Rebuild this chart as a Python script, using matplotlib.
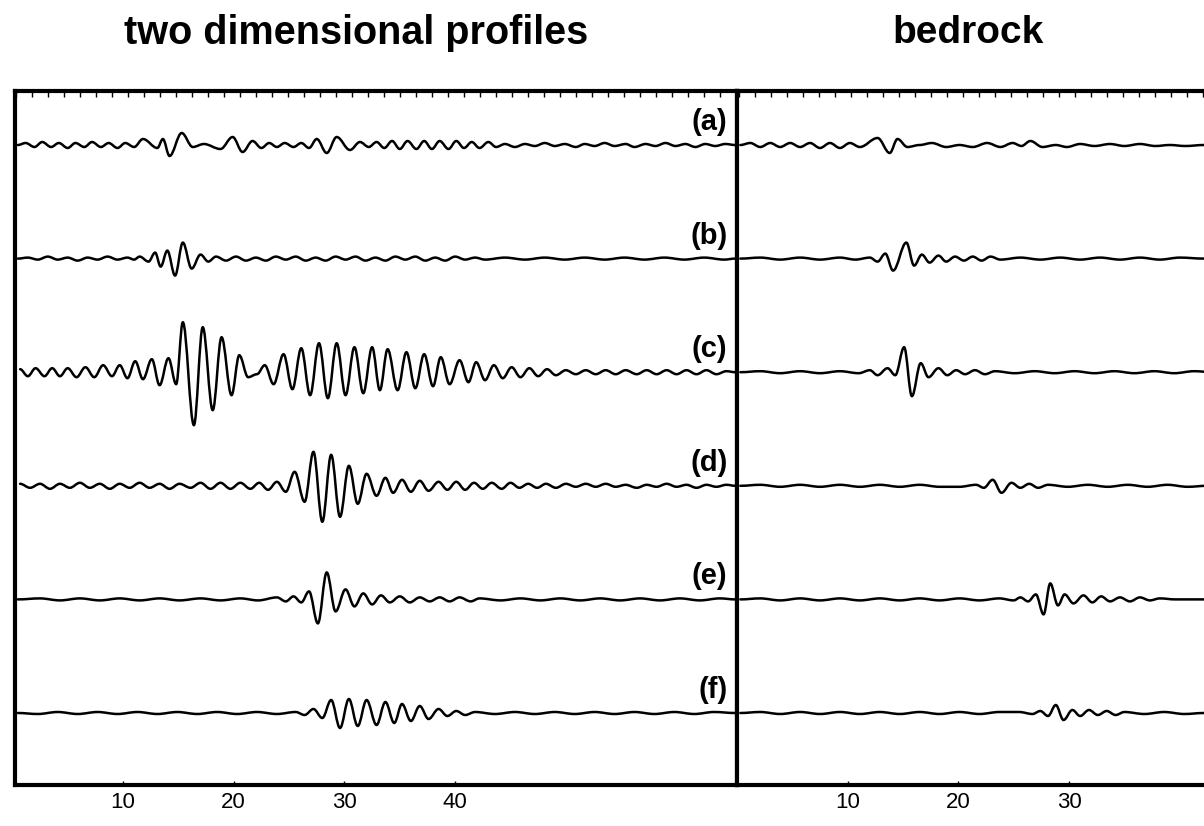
import matplotlib
matplotlib.use('Agg')
import matplotlib.pyplot as plt
from matplotlib.path import Path
from matplotlib.patches import PathPatch
from matplotlib.ticker import MultipleLocator

plt.rcParams['font.family'] = ['Liberation Sans', 'DejaVu Sans']

# time (s) of each wiggle extremum and its amplitude, one list pair per trace
left_a_t = [0.5, 1.2, 2.0, 2.7, 3.5, 4.2, 5.0, 5.7, 6.5, 7.2, 8.0, 8.7, 9.5, 10.2, 11.0, 11.8, 13.1, 13.6, 14.2, 15.3,
            16.3, 17.3, 18.8, 19.9, 20.8, 21.7, 22.5, 23.2, 23.9, 24.6, 25.4, 26.1, 26.8, 27.5, 28.4, 29.3, 30.5, 31.4,
            32.2, 32.9, 33.6, 34.3, 35.0, 35.7, 36.5, 37.2, 37.9, 38.6, 39.4, 40.1, 40.8, 41.5, 42.2, 43.0, 43.7, 44.5,
            45.4, 46.3, 47.2, 48.1, 49.0, 49.9, 50.9, 51.7, 52.6, 53.5, 54.4, 55.4, 56.2, 57.2, 58.1, 59.0, 59.9, 60.8,
            61.7, 62.6, 63.5, 64.4, 65.3]
left_a_y = [0, 2, -2, 3, -2, 2, -3, 2, -2, 3, -2, 2, -3, 2, -2, 6, -3, 6, -11, 12,
            -2, 1, -4, 8, -7, 4, -3, 2, -2, 2, -2, 2, -3, 6, -8, 8, -5, 3,
            -2, 3, -3, 4, -4, 4, -4, 4, -4, 4, -4, 4, -3, 3, -3, 3, -2, 1,
            -2, 1, -1, 2, -1, 1, -2, 1, -1, 2, -1, 1, -2, 1, -1, 2, -1, 1,
            -2, 1, -1, 1, 0]

left_b_t = [0.5, 1.4, 2.3, 3.2, 4.1, 5.0, 5.9, 6.8, 7.7, 8.6, 9.5, 10.4, 11.0, 11.5, 12.3, 12.9, 13.4, 14.0, 14.7, 15.4,
            16.2, 17.0, 17.7, 18.4, 19.3, 20.2, 21.1, 22.0, 22.9, 23.8, 24.7, 25.6, 26.5, 27.4, 28.3, 29.2, 30.1, 31.0,
            31.9, 32.8, 33.7, 34.6, 35.5, 36.4, 37.3, 38.2, 39.1, 40.0, 40.9, 41.8, 42.7, 44.5, 46.3, 48.1, 49.9, 51.7,
            53.5, 55.3, 57.1, 58.9, 60.7, 62.5, 64.3, 65.3]
left_b_y = [0, 1, -1, 2, -1, 1, -2, 1, -1, 2, -1, 1, -1, 2, -3, 6, -8, 8, -17, 16,
            -10, 4, -3, 2, -2, 2, -2, 1, -2, 2, -1, 2, -2, 1, -2, 2, -1, 2,
            -2, 1, -2, 2, -1, 2, -2, 1, -2, 2, -1, 1, -1, 1, -1, 1, -1, 1,
            -1, 1, -1, 1, -1, 1, -1, 0]

left_c_t = [0.7, 1.4, 2.1, 2.9, 3.6, 4.3, 5.0, 5.8, 6.6, 7.4, 8.2, 9.0, 9.7, 10.4, 11.1, 11.8, 12.6, 13.3, 14.1, 14.8,
            15.4, 16.4, 17.2, 18.1, 18.9, 19.8, 20.5, 21.3, 22.1, 22.8, 23.6, 24.5, 25.3, 26.1, 26.9, 27.7, 28.5, 29.3,
            30.1, 30.9, 31.7, 32.5, 33.2, 33.9, 34.8, 35.6, 36.4, 37.2, 38.0, 38.7, 39.5, 40.4, 41.2, 41.9, 42.7, 43.5,
            44.3, 45.1, 45.9, 46.7, 47.5, 48.3, 49.1, 50.0, 50.9, 51.8, 52.7, 53.6, 54.5, 55.4, 56.4, 57.3, 58.2, 59.1,
            60.0, 60.9, 61.8, 62.7, 63.6, 64.5, 65.3]
left_c_y = [3, -4, 4, -4, 4, -4, 4, -5, 5, -5, 7, -4, 7, -6, 11, -7, 13, -13, 14, -12,
            50, -53, 45, -38, 35, -23, 17, -5, -2, 7, -12, 18, -17, 24, -23, 29, -26, 29,
            -23, 25, -21, 25, -18, 23, -18, 20, -16, 18, -14, 15, -12, 12, -10, 10, -8, 7,
            -6, 5, -5, 4, -4, 3, -3, 2, -2, 2, -2, 2, -2, 2, -2, 2, -2, 2,
            -2, 2, -2, 2, -2, 1, 0]

left_d_t = [0.7, 1.6, 2.5, 3.4, 4.3, 5.2, 6.1, 7.0, 7.9, 8.8, 9.7, 10.6, 11.5, 12.4, 13.3, 14.2, 15.1, 16.1, 17.0, 17.9,
            18.8, 19.7, 20.6, 21.5, 22.3, 23.1, 23.9, 24.7, 25.5, 26.4, 27.2, 28.0, 28.8, 29.6, 30.4, 31.2, 32.0, 32.9,
            33.7, 34.4, 35.2, 36.0, 36.8, 37.6, 38.5, 39.3, 40.1, 40.9, 41.7, 42.5, 43.3, 44.2, 45.0, 45.8, 46.6, 47.4,
            48.2, 49.1, 50.0, 50.9, 51.8, 52.7, 53.6, 54.5, 55.4, 56.4, 57.3, 58.2, 59.1, 60.0, 60.9, 61.8, 62.7, 63.6,
            64.5, 65.3]
left_d_y = [2, -2, 2, -3, 2, -2, 3, -2, 2, -3, 2, -2, 3, -2, 2, -3, 2, -2, 3, -3,
            3, -3, 3, -3, 3, -4, 4, -6, 14, -16, 34, -36, 31, -31, 20, -18, 12, -10,
            8, -7, 6, -6, 5, -5, 4, -4, 4, -4, 3, -3, 3, -3, 3, -2, 2, -2,
            2, -2, 2, -1, 2, -1, 2, -1, 1, -2, 1, -1, 2, -1, 1, -2, 1, -1,
            1, 0]

left_e_t = [0.5, 2.5, 4.3, 6.1, 7.9, 9.7, 11.5, 13.3, 15.1, 17.0, 18.8, 20.6, 22.2, 23.9, 24.7, 25.4, 26.1, 26.8, 27.6,
            28.4, 29.2, 30.1, 30.9, 31.7, 32.5, 33.3, 34.1, 35.0, 35.9, 36.8, 37.7, 38.6, 39.5, 40.4, 41.4, 42.2, 44.1,
            45.9, 47.7, 49.5, 51.3, 53.1, 54.9, 56.7, 58.5, 60.3, 62.1, 63.9, 65.3]
left_e_y = [0, 1, -1, 1, -1, 1, -1, 1, -1, 1, -1, 1, -1, 2, -2, 3, -3, 8, -24,
            27, -12, 10, -7, 6, -5, 4, -3, 3, -3, 2, -2, 2, -2, 2, -2, 1, -1,
            1, -1, 1, -1, 1, -1, 1, -1, 1, -1, 1, 0]

left_f_t = [0.5, 2.3, 4.1, 5.9, 7.7, 9.5, 11.3, 13.1, 14.9, 16.7, 18.5, 20.3, 22.1, 23.9, 25.6, 26.4, 27.2, 28.0, 28.8,
            29.6, 30.4, 31.2, 32.0, 32.9, 33.7, 34.5, 35.2, 36.0, 36.8, 37.6, 38.5, 39.3, 40.1, 40.9, 41.8, 43.6, 45.4,
            47.2, 49.0, 50.8, 52.6, 54.4, 56.2, 58.0, 59.8, 61.6, 63.4, 65.3]
left_f_y = [0, -1, 1, -1, 1, -1, 1, -1, 1, -1, 1, -1, 1, -1, 1, -2, 4, -5, 13,
            -15, 14, -13, 13, -12, 11, -10, 9, -8, 7, -6, 4, -3, 2, -2, 1, -1, 1,
            -1, 1, -1, 1, -1, 1, -1, 1, -1, 1, 0]

right_a_t = [0.3, 1.2, 2.1, 3.0, 3.9, 4.8, 5.7, 6.6, 7.5, 8.4, 9.3, 10.2, 11.1, 12.7, 13.8, 14.5, 15.4, 16.5, 17.6, 18.9,
             20.1, 21.3, 22.6, 23.8, 24.9, 25.7, 26.5, 27.6, 28.8, 29.8, 31.0, 32.3, 33.7, 35.0, 36.4, 37.8, 39.1, 40.5,
             42.2, 47.0]
right_a_y = [0, 2, -2, 2, -2, 2, -2, 2, -3, 2, -3, 2, -2, 7, -8, 6, -2, 0, 2, -2,
             0, -2, 2, -2, 2, -1, 4, -2, 0, -2, 1, -1, 1, -1, 1, -1, 0, -1,
             0, 0]

right_b_t = [0.3, 2.1, 3.9, 5.7, 7.5, 9.3, 10.7, 12.0, 12.7, 13.4, 14.1, 15.3, 16.0, 16.7, 17.4, 18.2, 18.9, 19.7, 20.5,
             21.3, 22.1, 22.9, 23.8, 25.6, 27.4, 29.2, 31.0, 32.8, 34.6, 36.4, 38.2, 40.0, 42.2, 47.0]
right_b_y = [0, 1, -1, 1, -1, 1, -1, 1, -3, 5, -12, 16, -7, 4, -4, 3, -3, 2, -2,
             2, -2, 2, -1, 1, -1, 1, -1, 1, -1, 1, -1, 1, 0, 0]

right_c_t = [0.3, 2.1, 3.9, 5.7, 7.5, 9.3, 11.0, 12.0, 12.7, 13.6, 14.3, 15.1, 15.8, 16.6, 17.3, 18.2, 19.0, 19.8, 20.6,
             21.5, 22.4, 23.3, 25.1, 26.9, 28.7, 30.5, 32.3, 34.1, 35.9, 37.7, 39.5, 41.3, 43.0, 47.0]
right_c_y = [0, 1, -1, 1, -1, 1, -1, 2, -3, 4, -3, 25, -24, 9, -5, 4, -3, 2, -2,
             2, -2, 1, -1, 1, -1, 1, -1, 1, -1, 1, -1, 1, 0, 0]

right_d_t = [0.3, 2.1, 3.9, 5.7, 7.5, 9.3, 11.1, 12.9, 14.7, 16.5, 18.3, 20.1, 21.6, 22.3, 23.1, 23.9, 24.8, 25.6, 26.4,
             27.2, 28.1, 29.9, 31.7, 33.5, 35.3, 37.1, 38.9, 40.7, 42.5, 47.0]
right_d_y = [0, 1, -1, 1, -1, 1, -1, 1, -1, 1, -1, -1, 1, -2, 6, -7, 3, -2, 2,
             -2, 1, -1, 1, -1, 1, -1, 1, -1, 0, 0]

right_e_t = [0.3, 2.1, 3.9, 5.7, 7.5, 9.3, 11.1, 12.9, 14.7, 16.5, 18.3, 20.1, 21.9, 23.7, 25.0, 25.6, 26.3, 27.0, 27.7,
             28.3, 29.0, 29.6, 30.4, 31.3, 32.1, 32.9, 33.7, 34.6, 35.5, 36.4, 37.3, 38.2, 39.6, 42.2, 47.0]
right_e_y = [0, 1, -1, 1, -1, 1, -1, 1, -1, 1, -1, 1, -1, 1, -1, 2, -2, 5, -15,
             16, -6, 5, -4, 4, -3, 3, -2, 2, -2, 2, -1, 1, 0, 0, 0]

right_f_t = [0.3, 2.1, 3.9, 5.7, 7.5, 9.3, 11.1, 12.9, 14.7, 16.5, 18.3, 20.1, 21.9, 23.7, 25.5, 26.7, 27.4, 28.1, 28.8,
             29.5, 30.3, 31.0, 31.8, 32.6, 33.4, 34.2, 35.0, 36.8, 38.6, 40.4, 42.2, 47.0]
right_f_y = [0, 1, -1, 1, -1, 1, -1, 1, -1, 1, -1, 1, -1, 1, 1, -1, 2, -3, 8,
             -7, 3, -3, 3, -2, 2, -2, 1, -1, 1, -1, 0, 0]

trace_labels = ['(a)', '(b)', '(c)', '(d)', '(e)', '(f)']
left_traces = [(left_a_t, left_a_y), (left_b_t, left_b_y), (left_c_t, left_c_y),
               (left_d_t, left_d_y), (left_e_t, left_e_y), (left_f_t, left_f_y)]
right_traces = [(right_a_t, right_a_y), (right_b_t, right_b_y), (right_c_t, right_c_y),
                (right_d_t, right_d_y), (right_e_t, right_e_y), (right_f_t, right_f_y)]
left_ticks = [10, 20, 30, 40]
right_ticks = [10, 20, 30]

W, H = 1204, 826
spacing = 113.6


def wiggle(ax, t, a, base):
    # smooth curve through the extrema: flat tangent at every peak / trough
    verts = [(t[0], a[0] + base)]
    codes = [Path.MOVETO]
    for k in range(len(t) - 1):
        d = 0.36 * (t[k + 1] - t[k])
        verts += [(t[k] + d, a[k] + base), (t[k + 1] - d, a[k + 1] + base),
                  (t[k + 1], a[k + 1] + base)]
        codes += [Path.CURVE4] * 3
    ax.add_patch(PathPatch(Path(verts, codes), fill=False, edgecolor='black',
                           lw=1.8, joinstyle='round', capstyle='round'))


fig = plt.figure(figsize=(W / 100, H / 100), dpi=100)
ax_l = fig.add_axes([15 / W, 41 / H, 722 / W, 694 / H])
ax_r = fig.add_axes([737 / W, 41 / H, 523 / W, 694 / H])

for ax, traces in [(ax_l, left_traces), (ax_r, right_traces)]:
    for i, (t, a) in enumerate(traces):
        wiggle(ax, t, a, -i * spacing)
    ax.set_ylim(-640, 54)
    ax.set_yticks([])
    for s in ax.spines.values():
        s.set_linewidth(3)
    ax.tick_params(axis='x', which='major', direction='in', length=3, width=1,
                   top=False, pad=5, labelsize=16)
    ax.tick_params(axis='x', which='minor', direction='in', length=4, width=1,
                   top=True, bottom=False)

ax_l.set_xlim(0.24, 65.46)
ax_r.set_xlim(0, 47.25)
ax_l.set_xticks(left_ticks)
ax_r.set_xticks(right_ticks)
ax_l.xaxis.set_minor_locator(MultipleLocator(1.445, offset=0.335))
ax_r.xaxis.set_minor_locator(MultipleLocator(1.445, offset=0.18))

for i, lab in enumerate(trace_labels):
    ax_l.text(64.6, 23 - i * spacing, lab, ha='right', va='center',
              fontsize=21, fontweight='bold')

fig.text(356 / W, 1 - 33 / H, 'two dimensional profiles', ha='center', va='center',
         fontsize=28.5, fontweight='bold')
fig.text(968 / W, 1 - 33 / H, 'bedrock', ha='center', va='center',
         fontsize=28, fontweight='bold')

fig.savefig('out.png', dpi=100)
